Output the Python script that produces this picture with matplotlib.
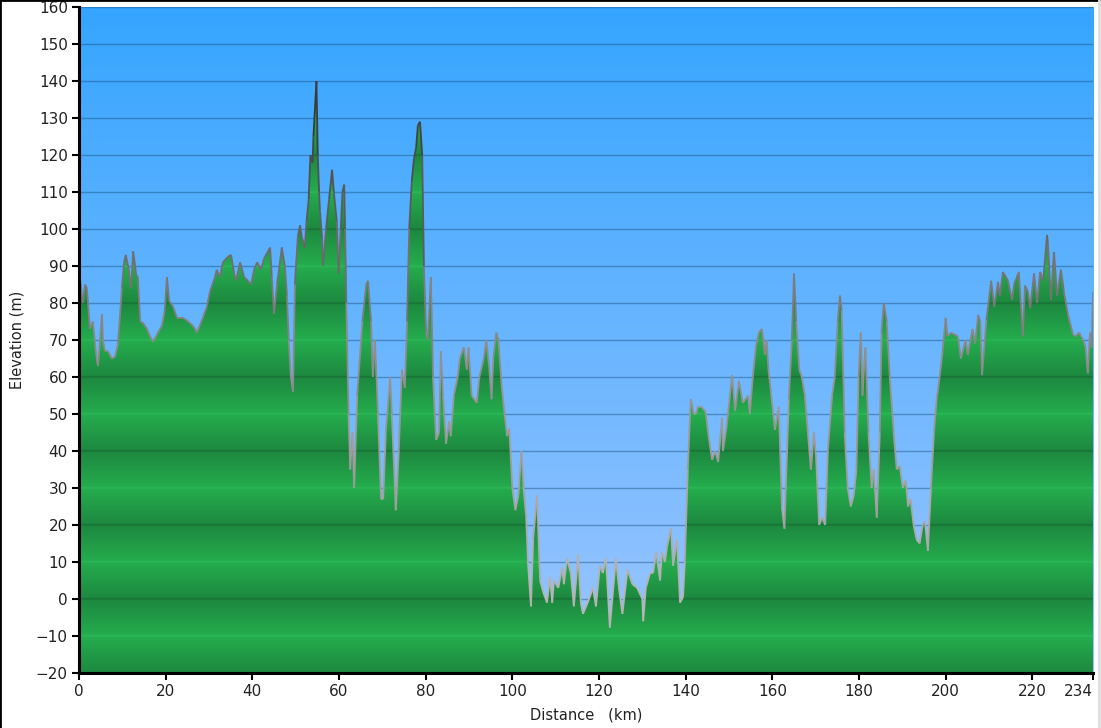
import matplotlib
matplotlib.use("Agg")
import matplotlib.pyplot as plt
import numpy as np
from matplotlib.path import Path
from matplotlib.collections import LineCollection
from matplotlib.colors import LinearSegmentedColormap

# elevation profile (distance km, elevation m)
dist = [0.0, 0.2, 0.9, 1.4, 1.8, 2.1, 2.5, 3.2, 3.7, 4.2, 4.4, 5.3, 5.5, 6.0, 6.7, 7.6, 8.3, 9.0, 9.9,
        10.4, 10.8, 11.5, 12.0, 12.5, 13.2, 13.6, 14.1, 14.8, 15.7, 16.4, 17.1, 18.2, 19.2, 19.8,
        20.3, 20.8, 21.7, 22.6, 24.0, 25.2, 26.1, 26.8, 27.2, 27.9, 28.6, 29.5, 30.2, 31.4, 31.8,
        32.5, 33.2, 34.4, 35.1, 35.8, 36.2, 37.2, 38.1, 39.0, 39.7, 40.4, 41.1, 42.0, 42.7, 44.1,
        44.5, 45.0, 45.7, 46.8, 47.5, 48.0, 48.4, 48.9, 49.4, 49.8, 50.5, 51.0, 51.4, 52.1, 52.5,
        53.0, 53.4, 53.9, 54.1, 54.8, 55.1, 55.4, 55.6, 56.1, 56.3, 57.0, 57.7, 58.4, 58.8, 59.5,
        59.9, 60.4, 60.8, 61.2, 61.4, 61.7, 62.2, 62.6, 63.1, 63.5, 64.2, 65.4, 66.3, 66.7, 67.4,
        67.8, 68.3, 69.0, 69.7, 70.2, 70.8, 71.8, 72.2, 73.1, 73.8, 74.5, 75.2, 75.7, 76.2, 76.8,
        77.3, 77.8, 78.2, 78.7, 79.2, 79.6, 80.1, 80.5, 81.2, 81.7, 82.4, 83.1, 83.5, 84.0, 84.7,
        85.4, 85.8, 86.5, 87.4, 87.9, 88.8, 89.5, 89.9, 90.6, 91.8, 92.4, 93.4, 94.0, 94.7, 95.2,
        95.6, 96.3, 96.8, 97.5, 98.2, 98.8, 99.3, 100.0, 100.7, 101.4, 102.1, 102.6, 103.2, 103.6,
        104.3, 104.8, 105.7, 106.4, 107.1, 108.0, 108.7, 109.2, 109.6, 110.6, 111.5, 111.9, 112.6,
        113.5, 114.2, 115.2, 115.8, 116.3, 117.4, 118.6, 119.3, 120.2, 120.9, 121.6, 122.5, 123.9,
        124.6, 125.4, 126.6, 127.7, 128.8, 130.0, 130.2, 130.8, 131.8, 132.5, 133.2, 134.1, 134.5,
        135.2, 135.7, 136.6, 137.1, 138.0, 138.7, 139.4, 139.8, 140.5, 141.0, 141.2, 141.9, 142.4,
        142.8, 143.6, 144.6, 145.3, 146.1, 146.8, 147.5, 148.4, 148.6, 149.5, 150.7, 151.4, 152.3,
        153.2, 154.4, 154.8, 155.5, 156.2, 156.9, 157.6, 158.3, 158.7, 159.1, 159.7, 160.6, 161.5,
        162.2, 162.8, 163.8, 164.5, 165.0, 165.5, 166.2, 166.8, 167.5, 168.2, 168.9, 169.6, 170.1,
        170.8, 171.5, 172.2, 172.8, 173.8, 174.4, 175.1, 175.6, 176.0, 176.7, 177.4, 178.1, 178.8,
        179.4, 179.9, 180.4, 180.8, 181.3, 181.5, 182.2, 182.9, 183.4, 184.1, 184.8, 185.2, 185.7,
        186.4, 187.1, 188.0, 188.7, 189.4, 190.1, 190.8, 191.3, 191.9, 192.6, 193.3, 194.0, 194.7,
        195.2, 195.9, 196.6, 197.3, 198.0, 198.2, 199.3, 200.0, 200.4, 201.2, 202.8, 203.5, 204.6,
        205.1, 206.2, 206.8, 207.5, 208.0, 208.4, 209.4, 210.5, 211.2, 212.1, 212.5, 213.2, 214.4,
        215.3, 215.8, 216.9, 217.8, 218.3, 219.0, 219.5, 220.4, 221.1, 221.8, 222.5, 223.4, 223.6,
        224.3, 225.0, 225.7, 226.6, 227.3, 228.2, 229.4, 230.0, 230.8, 231.7, 232.3, 232.8, 233.3,
        233.7, 234.0]
elev = [86, 87, 80, 85, 84, 80, 73, 75, 69, 64, 63, 77, 70, 67, 67, 65, 65.5, 69, 84,
        91, 93, 89, 84, 94, 87.6, 87, 75, 74.6, 73, 71, 69.5, 72, 74, 78,
        87, 80.6, 79, 76, 76, 75, 74, 73, 72, 74, 76, 79, 83, 87, 89,
        87, 91, 92.5, 93, 88, 86, 91, 87, 86, 85, 89, 91, 89, 92, 95,
        87, 77, 85, 95, 90, 82, 70, 60, 56, 85, 98, 101, 98, 95, 102,
        108, 120, 118, 125, 140, 120, 110, 105, 97.6, 90, 100, 108, 116, 110, 102,
        88, 100, 110, 112, 100, 80, 50, 35, 45, 30, 55, 75, 85, 86, 75,
        60, 70, 50, 27, 27, 45, 60, 50, 24, 40, 62, 57, 75, 100, 113,
        119, 122, 128, 129, 120, 90, 72, 70, 87, 60, 43, 45, 67, 55, 42,
        48, 44, 55, 60, 65, 68, 62, 68, 55, 53, 60, 65, 70, 62, 54,
        65, 72, 70, 58, 50, 44, 46, 30, 24, 28, 40, 30, 22, 10,
        -2, 16, 28, 5, 2, -1, 6, -1, 5, 3, 8.5, 4, 11,
        7, -2, 12, -1, -4, -1, 3, -2, 9, 7, 11, -7.7, 11,
        3, -4, 8, 4, 3, 0, -6, 3, 7, 7, 12.7, 5, 12.6,
        10, 14, 19, 9, 16, -1, 0.5, 10, 35, 50, 54, 50, 50,
        52, 52, 50.6, 44, 37.6, 40, 37, 49, 40, 47, 60.5, 50.8, 59,
        53, 55, 50, 60, 68, 72, 73, 66, 70, 62, 55.7, 45.7, 52,
        25, 19, 54, 70, 88, 75, 62, 60, 55, 45, 35, 45, 38,
        20, 22, 20, 40, 55, 60, 75, 82, 78, 45, 30, 25, 28,
        35, 60, 72, 55, 65, 68, 45, 30, 35, 22, 45, 72, 80,
        75, 60, 45, 35, 36, 30, 32, 25, 27, 20, 16, 15, 20,
        21, 13, 30, 45, 55, 56, 67, 76, 71, 72, 71, 65, 70,
        66, 73, 69, 76.8, 75, 60.5, 75.4, 86, 79, 85.7, 82, 88.4, 86,
        80.8, 85, 88.4, 71, 84.7, 83, 78.6, 88, 80, 88.4, 86, 98.4, 96,
        80.8, 93.8, 82, 89, 83, 77, 71.4, 71, 72, 70, 68, 61, 72,
        68, 83]

xticks = [0, 20, 40, 60, 80, 100, 120, 140, 160, 180, 200, 220, 234]
yticks = list(range(-20, 161, 10))

x = np.array(dist)
y = np.array(elev)
ymin, ymax = -20, 160

fig = plt.figure(figsize=(11.01, 7.28), dpi=100)
ax = fig.add_axes([79 / 1101, 1 - 673 / 728, 1014 / 1101, 666 / 728])
ax.set_xlim(0, 234)
ax.set_ylim(ymin, ymax)

# sky gradient
top = np.array([0x35, 0xa5, 0xff]) / 255
bot = np.array([0x9e, 0xc6, 0xff]) / 255
t = np.linspace(0, 1, 400)[:, None]
sky = (top * (1 - t) + bot * t)[:, None, :]
ax.imshow(sky, extent=[0, 234, ymin, ymax], aspect="auto", origin="upper", zorder=0)

# grid lines
for v in yticks[1:]:
    ax.axhline(v, color="#1a4f80", alpha=0.45, lw=1, zorder=1)

# banded green terrain (light at 10, 30, 50 ..., dark at 0, 20, 40 ...)
vals = np.linspace(ymax, ymin, 1800)
phase = np.mod(vals - 10, 20) / 20.0
tri = np.where(phase < 0.5, 1 - phase * 2, phase * 2 - 1)
light = np.array([0x25, 0xad, 0x4e]) / 255
dark = np.array([0x1d, 0x88, 0x3f]) / 255
w = tri[:, None]
band = light * w + dark * (1 - w)
for v in yticks[1:-1]:
    idx = np.abs(vals - v) < 0.25
    if (v // 10) % 2 == 0:
        band[idx] = np.array([0x19, 0x74, 0x37]) / 255
    else:
        band[idx] = np.array([0x2a, 0xb6, 0x55]) / 255
green = ax.imshow(band[:, None, :], extent=[0, 234, ymin, ymax], aspect="auto",
                  origin="upper", zorder=2, interpolation="bilinear")
verts = [(x[0], ymin)] + list(zip(x, y)) + [(x[-1], ymin), (x[0], ymin)]
codes = [Path.MOVETO] + [Path.LINETO] * (len(verts) - 2) + [Path.CLOSEPOLY]
green.set_clip_path(Path(verts, codes), transform=ax.transData)

# outline, darker on the high ground
cmap = LinearSegmentedColormap.from_list("ol", ["#b5b5b5", "#8a8a8a", "#303030"])
segs = np.stack([np.column_stack([x[:-1], y[:-1]]), np.column_stack([x[1:], y[1:]])], axis=1)
lc = LineCollection(segs, cmap=cmap, norm=plt.Normalize(0, 140), lw=1.3, zorder=3)
lc.set_array((y[:-1] + y[1:]) / 2)
ax.add_collection(lc)

ax.set_xticks(xticks)
ax.set_yticks(yticks)
ax.tick_params(direction="out", length=5, width=1.5, color="black",
               labelsize=11, labelcolor="#222222", pad=3)
ax.get_xticklabels()[-1].set_horizontalalignment("right")
for s in ["top", "right"]:
    ax.spines[s].set_visible(False)
for s in ["left", "bottom"]:
    ax.spines[s].set_linewidth(2.2)
    ax.spines[s].set_color("black")
    ax.spines[s].set_zorder(5)

ax.set_xlabel("Distance   (km)", fontsize=10.5, color="#222222", labelpad=6)
ax.set_ylabel("Elevation (m)", fontsize=10.5, color="#222222", labelpad=8)

# frame of the picture
fig.add_artist(plt.Line2D([0, 0], [0, 1], color="black", lw=2, transform=fig.transFigure))
fig.add_artist(plt.Line2D([0, 1], [1, 1], color="black", lw=2, transform=fig.transFigure))
fig.add_artist(plt.Line2D([0.998, 0.998], [0, 1], color="#dddddd", lw=2, transform=fig.transFigure))

fig.savefig("out.png", dpi=100)
